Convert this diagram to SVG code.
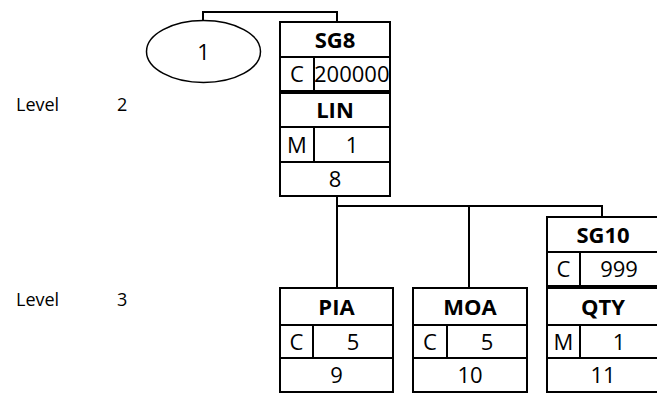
<svg xmlns="http://www.w3.org/2000/svg" width="657" height="393" viewBox="0 0 657 393">
<style>
.box{fill:#fff;stroke:#000;stroke-width:2}
.ln{stroke:#000;stroke-width:2;fill:none}
.t{font-family:"Open Sans","Liberation Sans",sans-serif;font-size:22px;fill:#000;text-anchor:middle}
.b{font-weight:bold}
.lv{font-family:"Open Sans","Liberation Sans",sans-serif;font-size:18px;fill:#000}
</style>
<rect width="657" height="393" fill="#fff"/>
<g id="labels">
<text class="lv" x="16" y="111">Level</text>
<text class="lv" x="117" y="111">2</text>
<text class="lv" x="16" y="306">Level</text>
<text class="lv" x="117" y="306">3</text>
</g>
<g id="connectors">
<path class="ln" d="M203,21 V12 H337 V22"/>
<path class="ln" d="M337,196 V206 H602 V217"/>
<path class="ln" d="M337,206 V288"/>
<path class="ln" d="M469,206 V288"/>
</g>
<g id="node1">
<ellipse cx="203.5" cy="51.5" rx="57" ry="31" fill="#fff" stroke="#000" stroke-width="1.5"/>
<text class="t" x="203.5" y="60">1</text>
</g>
<g id="SG8">
<rect class="box" x="280" y="22" width="110" height="69"/>
<path class="ln" d="M280,57 H390 M314,57 V91"/>
<text class="t b" x="335" y="48">SG8</text>
<text class="t" x="297" y="82">C</text>
<text class="t" x="314" y="82" style="text-anchor:start">200000</text>
</g>
<g id="LIN">
<rect class="box" x="280" y="93" width="110" height="103"/>
<path class="ln" d="M280,127 H390 M280,162 H390 M314,127 V162"/>
<text class="t b" x="335" y="118">LIN</text>
<text class="t" x="297" y="153">M</text>
<text class="t" x="352" y="153">1</text>
<text class="t" x="335" y="187">8</text>
</g>
<g id="PIA">
<rect class="box" x="280" y="288" width="113" height="104"/>
<path class="ln" d="M280,325 H393 M280,358 H393 M313,325 V358"/>
<text class="t b" x="336.5" y="315">PIA</text>
<text class="t" x="296.5" y="350">C</text>
<text class="t" x="353" y="350">5</text>
<text class="t" x="336.5" y="383">9</text>
</g>
<g id="MOA">
<rect class="box" x="413" y="288" width="114" height="104"/>
<path class="ln" d="M413,325 H527 M413,358 H527 M447,325 V358"/>
<text class="t b" x="470" y="315">MOA</text>
<text class="t" x="430" y="350">C</text>
<text class="t" x="487" y="350">5</text>
<text class="t" x="470" y="383">10</text>
</g>
<g id="SG10">
<rect class="box" x="547" y="217" width="112" height="69"/>
<path class="ln" d="M547,252 H659 M580,252 V286"/>
<text class="t b" x="603" y="243">SG10</text>
<text class="t" x="563.5" y="277">C</text>
<text class="t" x="619" y="277">999</text>
</g>
<g id="QTY">
<rect class="box" x="547" y="288" width="112" height="104"/>
<path class="ln" d="M547,325 H659 M547,358 H659 M580,325 V358"/>
<text class="t b" x="603" y="315">QTY</text>
<text class="t" x="563.5" y="350">M</text>
<text class="t" x="619" y="350">1</text>
<text class="t" x="603" y="383">11</text>
</g>
</svg>
